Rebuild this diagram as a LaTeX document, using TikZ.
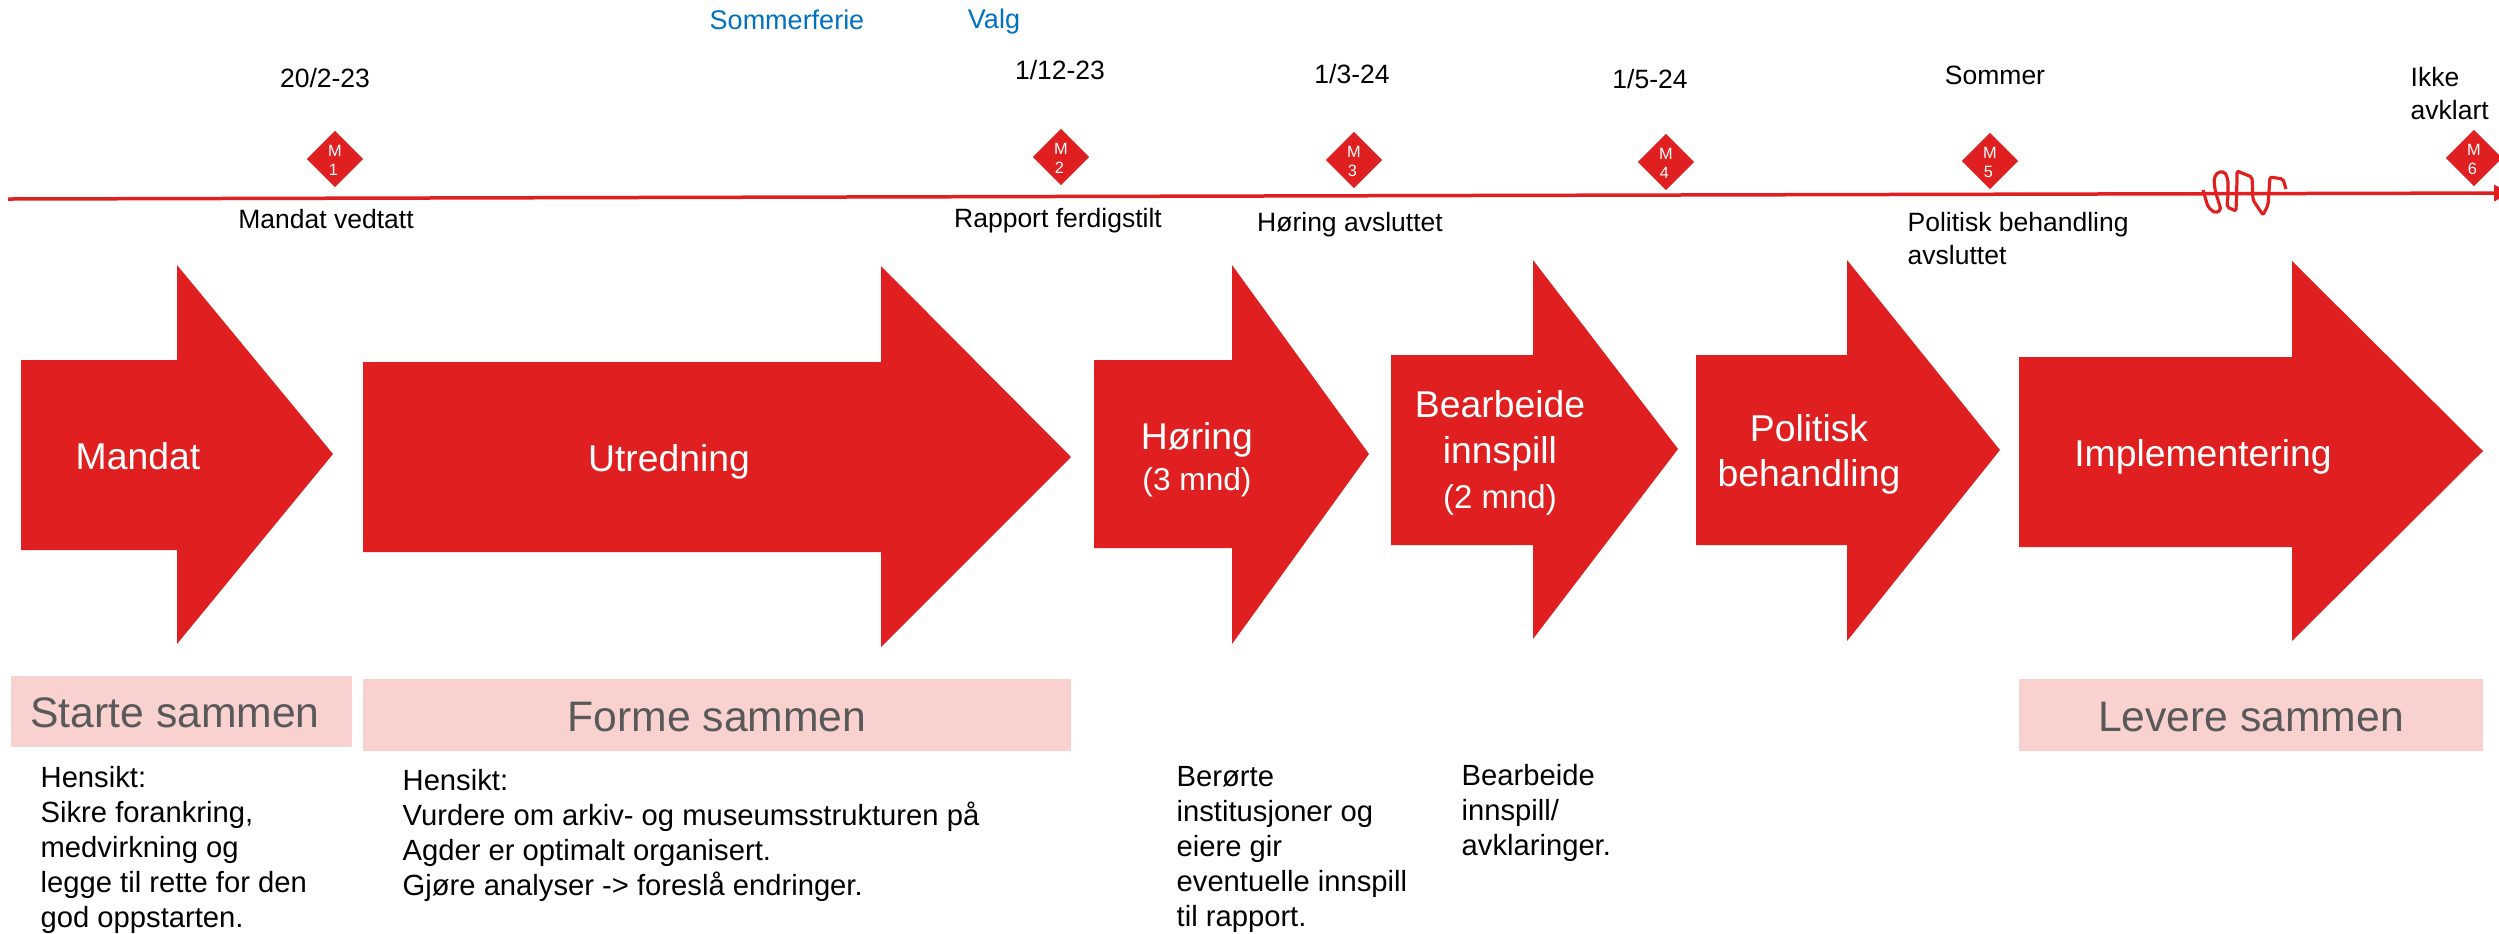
\documentclass[tikz,border=0pt]{standalone}
\usepackage{fontspec}
\setmainfont{Liberation Sans}
\usetikzlibrary{shapes.geometric,arrows.meta}
\definecolor{rd}{HTML}{E02020}
\definecolor{pinkbar}{HTML}{F9D2D0}
\definecolor{bluetxt}{HTML}{0070C0}
\definecolor{greytxt}{HTML}{595959}
\tikzset{
 bigarrow/.style={fill=rd,draw=none},
 bar/.style={fill=pinkbar,draw=none},
 milestone/.style={diamond,fill=rd,draw=none,inner sep=0pt,minimum width=17pt,minimum height=17pt},
 mtext/.style={text=white,align=center,inner sep=0pt,font=\fontsize{4.9}{5.7}\selectfont},
 tl/.style={inner sep=0pt,anchor=base,font=\fontsize{7.95}{9.6}\selectfont},
 tlblue/.style={inner sep=0pt,anchor=base,text=bluetxt,font=\fontsize{8.1}{9.6}\selectfont},
 tlblock/.style={inner sep=0pt,anchor=north west,align=left,font=\fontsize{7.95}{9.7}\selectfont},
 desc/.style={inner sep=0pt,anchor=north west,align=left,font=\fontsize{8.76}{10.5}\selectfont},
 arrowlabel/.style={inner sep=0pt,text=white,align=center,font=\fontsize{11.2}{13.6}\selectfont},
 barlabel/.style={inner sep=0pt,text=greytxt,font=\fontsize{12.8}{15}\selectfont},
 timeline/.style={draw=rd,line width=1.05pt,-{Triangle[length=4.8pt,width=4.8pt]}},
 scribble/.style={draw=rd,line width=0.95pt,line join=round,rounded corners=0.6pt},
}
\begin{document}
\begin{tikzpicture}[x=0.3pt,y=-0.3pt]
\useasboundingbox (0,0) rectangle (2499,933);
% timeline
\coordinate (tlstart) at (8,199);
\coordinate (tlend) at (2510,193);
\draw[timeline] (tlstart) -- (tlend);
\draw[scribble] (2203,190) -- (2208,207) -- (2215,213) -- (2221,210) -- (2215,190) -- (2214,178) -- (2218,172) -- (2225,172) -- (2228,180) -- (2228,195) -- (2227,207) -- (2236,211) -- (2237,180) -- (2237,171) -- (2252,177) -- (2253,200) -- (2263,215) -- (2268,205) -- (2270,177) -- (2283,179) -- (2286,189);
% milestones
\node[milestone] (m1) at (335,159) {};
\node[milestone] (m2) at (1061,157) {};
\node[milestone] (m3) at (1354,160) {};
\node[milestone] (m4) at (1666,162) {};
\node[milestone] (m5) at (1990,161) {};
\node[milestone] (m6) at (2474,158) {};
\node[mtext] (m1t) at (335,160) {M\\1\hspace*{1pt}};
\node[mtext] (m2t) at (1061,158) {M\\2\hspace*{1pt}};
\node[mtext] (m3t) at (1354,161) {M\\3\hspace*{1pt}};
\node[mtext] (m4t) at (1666,163) {M\\4\hspace*{1pt}};
\node[mtext] (m5t) at (1990,162) {M\\5\hspace*{1pt}};
\node[mtext] (m6t) at (2474,159) {M\\6\hspace*{1pt}};
% timeline labels
\node[tlblue] (ferie) at (787,29) {Sommerferie};
\node[tlblue] (valg) at (994,28) {Valg};
\node[tl] (d1) at (325,87) {20/2-23};
\node[tl] (d2) at (1060,79) {1/12-23};
\node[tl] (d3) at (1352,83) {1/3-24};
\node[tl] (d4) at (1650,88) {1/5-24};
\node[tl] (d5) at (1995,84) {Sommer};
\node[tlblock] (d6) at (2410,67) {Ikke\\avklart};
\node[tl] (e1) at (326,228) {Mandat vedtatt};
\node[tl] (e2) at (1058,227) {Rapport ferdigstilt};
\node[tl] (e3) at (1350,231) {Høring avsluttet};
\node[tlblock] (e5) at (1907,212) {Politisk behandling\\avsluttet};
% arrows
\fill[bigarrow] (21,360) -- (177,360) -- (177,265) -- (333,454) -- (177,644) -- (177,550) -- (21,550) -- cycle;
\fill[bigarrow] (363,362) -- (881,362) -- (881,266) -- (1071,457) -- (881,647) -- (881,552) -- (363,552) -- cycle;
\fill[bigarrow] (1094,360) -- (1232,360) -- (1232,265) -- (1369,454) -- (1232,644) -- (1232,548) -- (1094,548) -- cycle;
\fill[bigarrow] (1391,355) -- (1533,355) -- (1533,260) -- (1678,449) -- (1533,639) -- (1533,545) -- (1391,545) -- cycle;
\fill[bigarrow] (1696,355) -- (1847,355) -- (1847,260) -- (2000,450) -- (1847,641) -- (1847,545) -- (1696,545) -- cycle;
\fill[bigarrow] (2019,357) -- (2292,357) -- (2292,261) -- (2483,451) -- (2292,641) -- (2292,547) -- (2019,547) -- cycle;
\node[arrowlabel] (a1) at (138,456) {Mandat};
\node[arrowlabel] (a2) at (669,462) {Utredning};
\node[arrowlabel] (a3) at (1197,460) {Høring\\[-1.2pt]{\fontsize{9.5}{11}\selectfont (3 mnd)}};
\node[arrowlabel] (a4) at (1500,453) {Bearbeide\\innspill\\[0pt]{\fontsize{9.9}{11}\selectfont (2 mnd)}};
\node[arrowlabel] (a5) at (1809,454) {Politisk\\behandling};
\node[arrowlabel] (a6) at (2203,457) {Implementering};
% bars
\fill[bar] (11,676) rectangle (352,747);
\fill[bar] (363,679) rectangle (1071,751);
\fill[bar] (2019,679) rectangle (2483,751);
\node[barlabel] (b1) at (175,713) {Starte sammen};
\node[barlabel] (b2) at (717,717) {Forme sammen};
\node[barlabel] (b3) at (2251,717) {Levere sammen};
% descriptions
\node[desc] (t1) at (40,766) {Hensikt:\\Sikre forankring,\\medvirkning og\\legge til rette for den\\god oppstarten.};
\node[desc] (t2) at (402,769) {Hensikt:\\Vurdere om arkiv- og museumsstrukturen på\\Agder er optimalt organisert.\\Gjøre analyser -> foreslå endringer.};
\node[desc] (t3) at (1176,766) {Berørte\\institusjoner og\\eiere gir\\eventuelle innspill\\til rapport.};
\node[desc] (t4) at (1461,764) {Bearbeide\\innspill/\\avklaringer.};
\end{tikzpicture}
\end{document}
